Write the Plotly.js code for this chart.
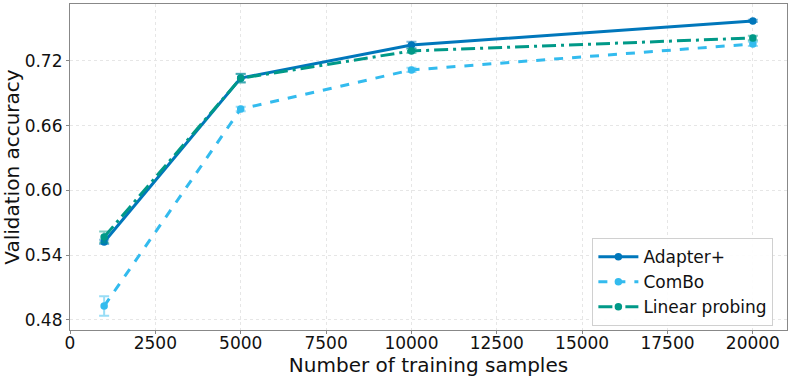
<!DOCTYPE html>
<html>
<head>
<meta charset="utf-8">
<script src="https://cdn.plot.ly/plotly-3.0.1.min.js"></script>
<style>
  html, body { margin: 0; padding: 0; background: #fff; }
  #chart { width: 793px; height: 380px; }
</style>
</head>
<body>
<div id="chart"></div>
<script>
const samples = [1000, 5000, 10000, 20000];

const adapterAcc = [0.5523, 0.7042, 0.7348, 0.7571];
const adapterErr = [0.002, 0.004, 0.003, 0.001];

const comboAcc = [0.4929, 0.6755, 0.7117, 0.7358];
const comboErr = [0.009, 0.002, 0.002, 0.002];

const linearAcc = [0.5569, 0.7040, 0.7293, 0.7413];
const linearErr = [0.005, 0.004, 0.002, 0.002];

const xTicks = [0, 2500, 5000, 7500, 10000, 12500, 15000, 17500, 20000];
const yTicks = [0.48, 0.54, 0.60, 0.66, 0.72];

function series(name, y, err, color, errColor, dash) {
  return {
    type: "scatter",
    mode: "lines+markers",
    name: name,
    x: samples,
    y: y,
    line: { color: color, width: 3, dash: dash },
    marker: { color: color, size: 7.5 },
    error_y: {
      type: "data",
      array: err,
      visible: true,
      color: errColor,
      thickness: 2,
      width: 5
    }
  };
}

const traces = [
  series("Adapter+", adapterAcc, adapterErr, "#0077BB", "rgba(0,119,187,0.5)", "solid"),
  series("ComBo", comboAcc, comboErr, "#33BBEE", "rgba(51,187,238,0.5)", "dash"),
  series("Linear probing", linearAcc, linearErr, "#009988", "rgba(0,153,136,0.5)", "14px,5px,3px,5px")
];

const axisCommon = {
  showline: true,
  mirror: true,
  linecolor: "#888888",
  linewidth: 1.2,
  ticks: "outside",
  ticklen: 3,
  tickcolor: "#888888",
  showgrid: true,
  gridcolor: "#e6e6e6",
  griddash: "dot",
  gridwidth: 1,
  zeroline: false,
  automargin: true,
  tickfont: { family: "DejaVu Sans", size: 17, color: "#111" }
};

Plotly.newPlot("chart", traces, {
  width: 793,
  height: 380,
  paper_bgcolor: "#fff",
  plot_bgcolor: "#fff",
  margin: { l: 70, r: 6, t: 4, b: 50 },
  font: { family: "DejaVu Sans", color: "#111" },
  xaxis: Object.assign({}, axisCommon, {
    range: [0, 21000],
    tickvals: xTicks,
    ticktext: xTicks.map(String),
    ticklabelstandoff: -6,
    title: { text: "Number of training samples", font: { family: "DejaVu Sans", size: 20 }, standoff: 0 }
  }),
  yaxis: Object.assign({}, axisCommon, {
    range: [0.4707, 0.7728],
    tickvals: yTicks,
    ticktext: yTicks.map(v => v.toFixed(2)),
    title: { text: "Validation accuracy", font: { family: "DejaVu Sans", size: 20 }, standoff: 1 }
  }),
  showlegend: true,
  legend: {
    x: 0.981,
    y: 0.012,
    xanchor: "right",
    yanchor: "bottom",
    bgcolor: "rgba(255,255,255,0.9)",
    bordercolor: "#d0d0d0",
    borderwidth: 1,
    font: { family: "DejaVu Sans", size: 17, color: "#111" },
    itemwidth: 40
  }
}, { displayModeBar: false, responsive: false });
</script>
</body>
</html>
